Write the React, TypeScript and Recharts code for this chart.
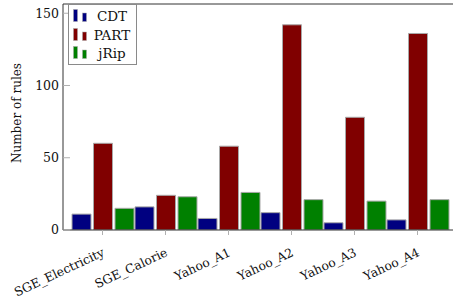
import React from 'react';
import { BarChart, Bar, XAxis, YAxis } from 'recharts';

const categories = ['SGE_Electricity', 'SGE_Calorie', 'Yahoo_A1', 'Yahoo_A2', 'Yahoo_A3', 'Yahoo_A4'];
const cdtValues = [11, 16, 8, 12, 5, 7];
const partValues = [60, 24, 58, 142, 78, 136];
const jripValues = [15, 23, 26, 21, 20, 21];
const yTicks = [0, 50, 100, 150];
const seriesNames = ['CDT', 'PART', 'jRip'];
const seriesColors = ['#000080', '#800000', '#008000'];

const data = categories.map((name, i) => ({
  name,
  CDT: cdtValues[i],
  PART: partValues[i],
  jRip: jripValues[i],
}));

const FONT = "'DejaVu Serif'";
const FS = 12;

const XTick = (props: any) => {
  const { x, y, payload } = props;
  return (
    <g transform={`translate(${x - 1},${y + 10}) rotate(-25)`}>
      <text x={0} y={0} dy="0.75em" textAnchor="end" style={{ fontFamily: FONT }} fontSize={FS + 0.3} fill="#111">
        {payload.value}
      </text>
    </g>
  );
};

const YLabel = (props: any) => {
  const { viewBox } = props;
  const cx = viewBox.x + 21;
  const cy = viewBox.y + viewBox.height / 2 - 4;
  return (
    <text
      x={cx}
      y={cy}
      transform={`rotate(-90, ${cx}, ${cy})`}
      textAnchor="middle"
      style={{ fontFamily: FONT }}
      fontSize={FS}
      fill="#111"
    >
      Number of rules
    </text>
  );
};

const LegendBox = () => (
  <div
    style={{
      position: 'absolute',
      left: 68,
      top: 4,
      width: 69,
      height: 61,
      border: '1px solid #8a8a8a',
      background: '#fff',
      boxSizing: 'border-box',
      fontFamily: FONT,
      fontSize: 13.5,
      color: '#111',
    }}
  >
    {seriesNames.map((n, i) => (
      <div
        key={n}
        style={{
          position: 'absolute',
          left: 0,
          top: 2 + i * 18.5,
          width: 67,
          height: 18.5,
        }}
      >
        <svg width={20} height={18} style={{ position: 'absolute', left: 3, top: 0 }}>
          <rect x={1.5} y={2.5} width={4} height={12} fill={seriesColors[i]} stroke="#aaa" strokeWidth={0.5} />
          <rect x={10.5} y={6} width={4} height={8.5} fill={seriesColors[i]} stroke="#aaa" strokeWidth={0.5} />
        </svg>
        <div
          style={{
            position: 'absolute',
            left: 21,
            width: 44,
            top: 0,
            textAlign: 'center',
            lineHeight: '18px',
          }}
        >
          {n}
        </div>
      </div>
    ))}
  </div>
);

export default function App() {
  return (
    <div
      style={{
        position: 'absolute',
        left: 0,
        top: 0,
        width: 453,
        height: 303,
        overflow: 'hidden',
        background: '#fff',
      }}
    >
      <BarChart
        width={458}
        height={303}
        data={data}
        margin={{ top: 0, right: 1, bottom: 0, left: 0 }}
        barSize={19}
        barGap={2.5}
        barCategoryGap={0}
      >
        <XAxis
          xAxisId="b"
          dataKey="name"
          orientation="bottom"
          height={73}
          padding={{ left: 8, right: 8 }}
          interval={0}
          tickSize={5}
          tickLine={{ stroke: '#b0b0b0' }}
          axisLine={{ stroke: '#333' }}
          tick={<XTick />}
        />
        <XAxis
          xAxisId="t"
          dataKey="name"
          orientation="top"
          height={4}
          padding={{ left: 8, right: 8 }}
          interval={0}
          tickSize={4}
          tickLine={{ stroke: '#b0b0b0' }}
          axisLine={{ stroke: '#333' }}
          tick={false}
        />
        <YAxis
          yAxisId="l"
          orientation="left"
          width={63}
          domain={[0, 156.4]}
          ticks={yTicks}
          allowDataOverflow
          tickSize={-7}
          tickMargin={11}
          tickLine={{ stroke: '#b0b0b0' }}
          axisLine={{ stroke: '#333' }}
          tick={{ style: { fontFamily: FONT }, fontSize: FS + 0.5, fill: '#111' }}
          label={<YLabel />}
        />
        <YAxis
          yAxisId="r"
          orientation="right"
          width={0}
          domain={[0, 156.4]}
          ticks={yTicks}
          allowDataOverflow
          tickSize={-7}
          tickLine={{ stroke: '#b0b0b0' }}
          axisLine={{ stroke: '#333' }}
          tick={false}
        />
        {seriesNames.map((n, i) => (
          <Bar
            key={n}
            dataKey={n}
            xAxisId="b"
            yAxisId="l"
            fill={seriesColors[i]}
            stroke="#a8a8a8"
            strokeWidth={1}
            isAnimationActive={false}
          />
        ))}
      </BarChart>
      <LegendBox />
    </div>
  );
}
